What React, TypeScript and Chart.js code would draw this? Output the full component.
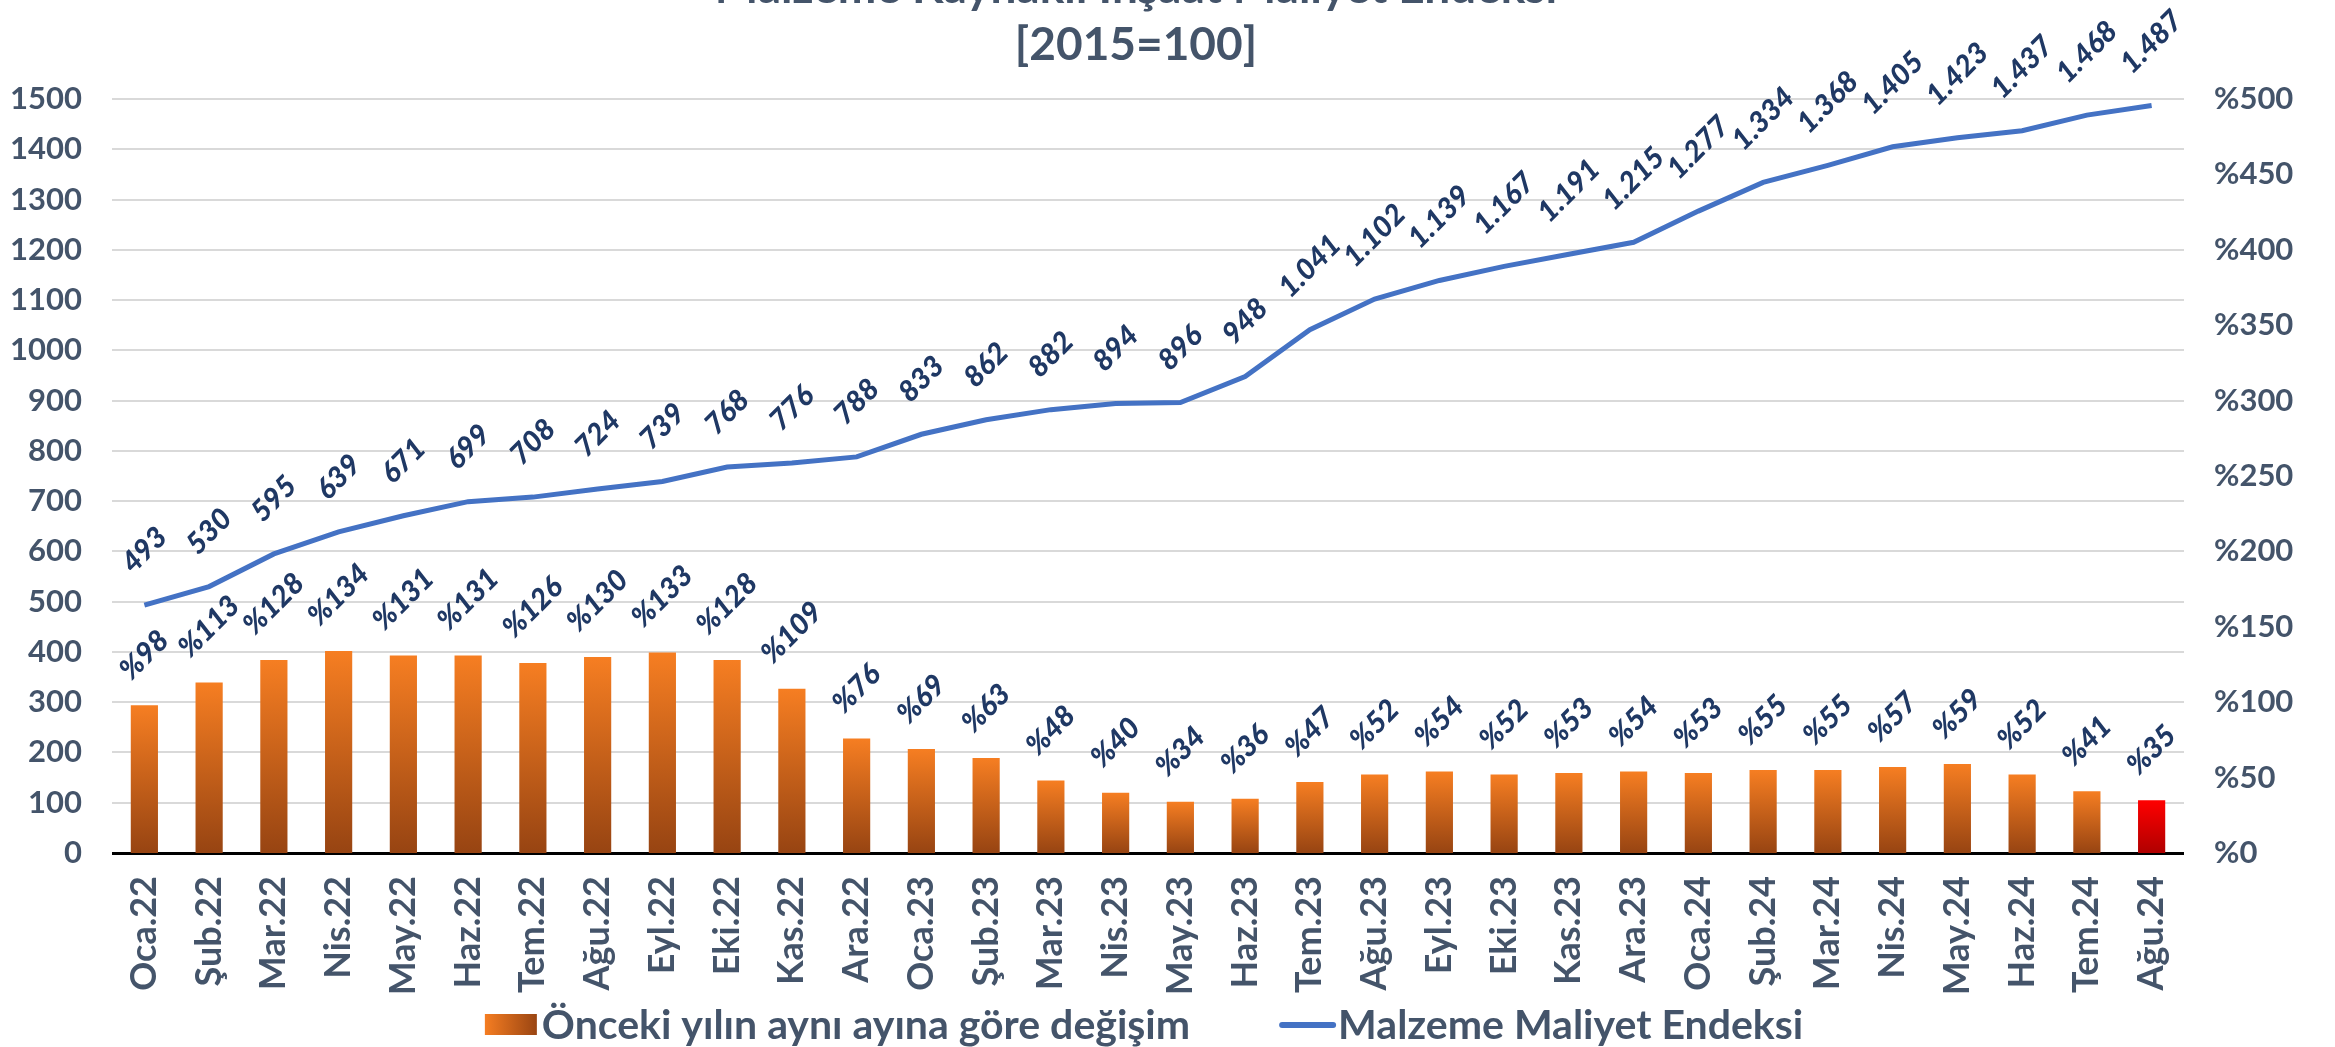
import React, { useEffect, useRef } from "react";
import { Chart, registerables } from "chart.js";

Chart.register(...registerables);

const categories = [
  "Oca.22", "Şub.22", "Mar.22", "Nis.22", "May.22", "Haz.22", "Tem.22", "Ağu.22",
  "Eyl.22", "Eki.22", "Kas.22", "Ara.22", "Oca.23", "Şub.23", "Mar.23", "Nis.23",
  "May.23", "Haz.23", "Tem.23", "Ağu.23", "Eyl.23", "Eki.23", "Kas.23", "Ara.23",
  "Oca.24", "Şub.24", "Mar.24", "Nis.24", "May.24", "Haz.24", "Tem.24", "Ağu.24",
];

const indexValues = [
  493, 530, 595, 639, 671, 699, 708, 724, 739, 768, 776, 788, 833, 862, 882, 894,
  896, 948, 1041, 1102, 1139, 1167, 1191, 1215, 1277, 1334, 1368, 1405, 1423, 1437, 1468, 1487,
];

const yoyChange = [
  98, 113, 128, 134, 131, 131, 126, 130, 133, 128, 109, 76, 69, 63, 48, 40,
  34, 36, 47, 52, 54, 52, 53, 54, 53, 55, 55, 57, 59, 52, 41, 35,
];

const titleLines = ["Malzeme Kaynaklı İnşaat Maliyet Endeksi", "[2015=100]"];
const seriesNames = ["Önceki yılın aynı ayına göre değişim", "Malzeme Maliyet Endeksi"];

const TEXT_COLOR = "#44546A";
const LABEL_COLOR = "#1F3864";
const LINE_COLOR = "#4472C4";
const FONT = "Lato, 'Open Sans', sans-serif";

function fmtIndex(v: number): string {
  if (v >= 1000) {
    return Math.floor(v / 1000) + "." + String(v % 1000).padStart(3, "0");
  }
  return String(v);
}

const overlayPlugin = {
  id: "overlay",
  afterDatasetsDraw(chart: any) {
    const ctx = chart.ctx as CanvasRenderingContext2D;
    const ang = (-45 * Math.PI) / 180;
    const fs = 29;
    ctx.save();
    ctx.font = `italic 900 ${fs}px ${FONT}`;
    ctx.fillStyle = LABEL_COLOR;
    ctx.textAlign = "center";
    ctx.textBaseline = "middle";
    chart.data.datasets.forEach((ds: any, di: number) => {
      const meta = chart.getDatasetMeta(di);
      const isLine = ds.type === "line";
      meta.data.forEach((el: any, j: number) => {
        const v = ds.data[j];
        const text = isLine ? fmtIndex(v) : "%" + v;
        const w = ctx.measureText(text).width;
        const H = w * Math.sin(Math.PI / 4) + fs * Math.cos(Math.PI / 4);
        const gap = isLine ? 27 : 20;
        const cx = el.x;
        const cy = el.y - gap - H / 2;
        ctx.save();
        ctx.translate(cx, cy);
        ctx.rotate(ang);
        ctx.fillText(text, 0, 0);
        ctx.restore();
      });
    });
    ctx.restore();
  },
  afterDraw(chart: any) {
    const ctx = chart.ctx as CanvasRenderingContext2D;
    ctx.save();
    // Title
    ctx.font = `bold 46px ${FONT}`;
    ctx.fillStyle = TEXT_COLOR;
    ctx.textAlign = "center";
    ctx.textBaseline = "alphabetic";
    ctx.fillText(titleLines[0], 1136, 3);
    ctx.fillText(titleLines[1], 1136, 60);

    // Legend
    ctx.font = `bold 41px ${FONT}`;
    ctx.textBaseline = "middle";
    ctx.textAlign = "left";
    const w1 = ctx.measureText(seriesNames[0]).width;
    const w2 = ctx.measureText(seriesNames[1]).width;
    const boxW = 52;
    const lineW = 57;
    const total = boxW + 5 + w1 + 89 + lineW + 2 + w2;
    let x = 1144 - total / 2;
    const cy = 1025;
    const g = ctx.createLinearGradient(x, 0, x + boxW, 0);
    g.addColorStop(0, "#F57D22");
    g.addColorStop(1, "#9A4512");
    ctx.fillStyle = g;
    ctx.fillRect(x, cy - 11, boxW, 21);
    x += boxW + 5;
    ctx.fillStyle = TEXT_COLOR;
    ctx.fillText(seriesNames[0], x, cy + 1);
    x += w1 + 89;
    ctx.strokeStyle = LINE_COLOR;
    ctx.lineWidth = 6;
    ctx.lineCap = "round";
    ctx.beginPath();
    ctx.moveTo(x + 3, cy);
    ctx.lineTo(x + lineW - 3, cy);
    ctx.stroke();
    x += lineW + 2;
    ctx.fillStyle = TEXT_COLOR;
    ctx.fillText(seriesNames[1], x, cy + 1);
    ctx.restore();
  },
};

export default function App() {
  const canvasRef = useRef<HTMLCanvasElement | null>(null);

  useEffect(() => {
    const canvas = canvasRef.current;
    if (!canvas) return;
    const lastIdx = categories.length - 1;
    const chart = new Chart(canvas, {
      type: "bar",
      data: {
        labels: categories,
        datasets: [
          {
            type: "line",
            label: seriesNames[1],
            data: indexValues,
            yAxisID: "y",
            borderColor: LINE_COLOR,
            backgroundColor: LINE_COLOR,
            borderWidth: 5,
            pointRadius: 0,
            tension: 0,
            order: 0,
          } as any,
          {
            type: "bar",
            label: seriesNames[0],
            data: yoyChange,
            yAxisID: "y1",
            order: 1,
            categoryPercentage: 1,
            barPercentage: 0.42,
            backgroundColor: (c: any) => {
              const ch = c.chart;
              const last = c.dataIndex === lastIdx;
              if (!ch.chartArea || c.type !== "data" || !ch.scales.y1) {
                return last ? "#FF0000" : "#F57D22";
              }
              const s = ch.scales.y1;
              const top = s.getPixelForValue(c.raw);
              const bottom = s.getPixelForValue(0);
              const g = ch.ctx.createLinearGradient(0, top, 0, bottom);
              if (last) {
                g.addColorStop(0, "#FF0000");
                g.addColorStop(1, "#B00000");
              } else {
                g.addColorStop(0, "#F67E22");
                g.addColorStop(1, "#974412");
              }
              return g;
            },
          } as any,
        ],
      },
      options: {
        responsive: false,
        animation: false,
        devicePixelRatio: 1,
        layout: { padding: { top: 99, left: 0, right: 0, bottom: 0 } },
        plugins: {
          legend: { display: false },
          title: { display: false },
          tooltip: { enabled: false },
        },
        scales: {
          x: {
            type: "category",
            offset: true,
            grid: { display: false, drawTicks: false },
            border: { display: false },
            ticks: {
              autoSkip: false,
              minRotation: 90,
              maxRotation: 90,
              padding: 23,
              color: TEXT_COLOR,
              font: { family: FONT, weight: "bold", size: 36 },
            },
            afterFit: (s: any) => {
              s.height = 194;
            },
          },
          y: {
            position: "left",
            min: 0,
            max: 1500,
            ticks: {
              stepSize: 100,
              padding: 30,
              color: TEXT_COLOR,
              font: { family: FONT, weight: "bold", size: 31 },
              callback: (v: any) => String(v),
            },
            grid: {
              drawTicks: false,
              color: (c: any) => (c.tick && c.tick.value === 0 ? "#000000" : "#D9D9D9"),
              lineWidth: (c: any) => (c.tick && c.tick.value === 0 ? 3 : 2),
            },
            border: { display: false },
            afterFit: (s: any) => {
              s.width = 112;
            },
          },
          y1: {
            position: "right",
            min: 0,
            max: 500,
            ticks: {
              stepSize: 50,
              padding: 30,
              color: TEXT_COLOR,
              font: { family: FONT, weight: "bold", size: 31 },
              callback: (v: any) => "%" + v,
            },
            grid: { display: false, drawTicks: false },
            border: { display: false },
            afterFit: (s: any) => {
              s.width = 151;
            },
          },
        },
      },
      plugins: [overlayPlugin],
    });
    return () => chart.destroy();
  }, []);

  return (
    <div style={{ position: "absolute", left: 0, top: 0, width: 2335, height: 1047, overflow: "hidden", background: "#fff" }}>
      <canvas ref={canvasRef} width={2335} height={1047} style={{ display: "block" }} />
    </div>
  );
}
